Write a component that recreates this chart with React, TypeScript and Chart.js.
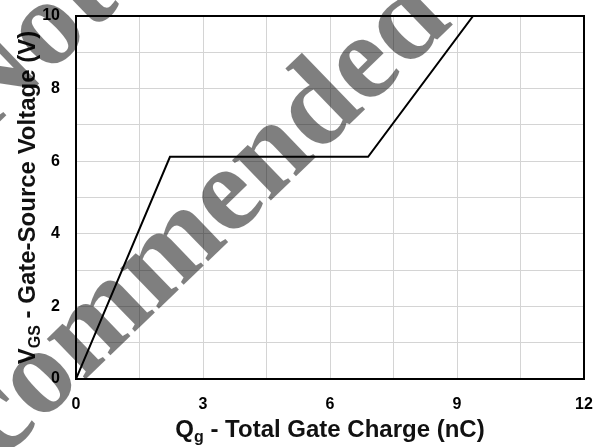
import { useEffect, useRef } from 'react';
import { Chart, registerables } from 'chart.js';

Chart.register(...registerables);

// Gate charge curve (Qg in nC, VGS in V)
const qgValues = [0, 2.22, 6.9, 9.38];
const vgsValues = [0, 6.12, 6.12, 10];

// Axis ranges / label rules
const xMin = 0;
const xMax = 12;
const xGridStep = 1.5;
const xLabelEvery = 3;
const yMin = 0;
const yMax = 10;
const yGridStep = 1;
const yLabelEvery = 2;

const xTitleMain = 'Q';
const xTitleSub = 'g';
const xTitleRest = ' - Total Gate Charge (nC)';
const yTitleMain = 'V';
const yTitleSub = 'GS';
const yTitleRest = ' - Gate-Source Voltage (V)';

const watermarkLines = ['Not', 'Recommended'];

const SANS = '"Liberation Sans", Arial, sans-serif';

function drawSubText(ctx: CanvasRenderingContext2D, parts: { t: string; size: number; dy: number }[], cx: number, cy: number) {
  let total = 0;
  const widths = parts.map((p) => {
    ctx.font = `bold ${p.size}px ${SANS}`;
    const w = ctx.measureText(p.t).width;
    total += w;
    return w;
  });
  let x = cx - total / 2;
  parts.forEach((p, i) => {
    ctx.font = `bold ${p.size}px ${SANS}`;
    ctx.fillText(p.t, x, cy + p.dy);
    x += widths[i];
  });
}

const boxPlugin = {
  id: 'plotBox',
  afterDatasetsDraw(chart: any) {
    const { ctx, chartArea: a } = chart;
    ctx.save();
    ctx.strokeStyle = '#000';
    ctx.lineWidth = 2;
    ctx.strokeRect(a.left, a.top, a.right - a.left, a.bottom - a.top);
    ctx.restore();
  },
};

const titlesPlugin = {
  id: 'axisTitles',
  afterDraw(chart: any) {
    const { ctx, chartArea: a } = chart;
    ctx.save();
    ctx.fillStyle = '#111';
    ctx.textAlign = 'left';
    ctx.textBaseline = 'alphabetic';
    drawSubText(
      ctx,
      [
        { t: xTitleMain, size: 24, dy: 0 },
        { t: xTitleSub, size: 16, dy: 5 },
        { t: xTitleRest, size: 24, dy: 0 },
      ],
      (a.left + a.right) / 2,
      437
    );
    ctx.translate(35, (a.top + a.bottom) / 2);
    ctx.rotate(-Math.PI / 2);
    drawSubText(
      ctx,
      [
        { t: yTitleMain, size: 24, dy: 0 },
        { t: yTitleSub, size: 16, dy: 5 },
        { t: yTitleRest, size: 24, dy: 0 },
      ],
      0,
      0
    );
    ctx.restore();
  },
};

const watermarkPlugin = {
  id: 'watermark',
  afterDraw(chart: any) {
    const { ctx } = chart;
    ctx.save();
    ctx.translate(176, 292);
    ctx.rotate((-44 * Math.PI) / 180);
    ctx.font = 'bold 122px "Liberation Serif", "Times New Roman", serif';
    ctx.fillStyle = 'rgba(0,0,0,0.5)';
    ctx.textAlign = 'center';
    ctx.textBaseline = 'alphabetic';
    ctx.fillText(watermarkLines[1], 0, 0);
    ctx.fillText(watermarkLines[0], 65, -245);
    ctx.restore();
  },
};

export default function App() {
  const ref = useRef<HTMLCanvasElement | null>(null);

  useEffect(() => {
    if (!ref.current) return;
    const tickFont = { family: SANS, size: 16, weight: 'bold' as const };
    const chart = new Chart(ref.current, {
      type: 'line',
      data: {
        datasets: [
          {
            data: qgValues.map((x, i) => ({ x, y: vgsValues[i] })),
            borderColor: '#000',
            borderWidth: 2,
            pointRadius: 0,
            tension: 0,
            fill: false,
          },
        ],
      },
      options: {
        responsive: false,
        animation: false,
        layout: { padding: { top: 16, right: 24, left: 0, bottom: 0 } },
        plugins: { legend: { display: false }, tooltip: { enabled: false } },
        scales: {
          x: {
            type: 'linear',
            min: xMin,
            max: xMax,
            ticks: {
              stepSize: xGridStep,
              autoSkip: false,
              maxRotation: 0,
              padding: 16,
              color: '#000',
              font: tickFont,
              callback: (v: any) => (Math.abs(v % xLabelEvery) < 1e-9 ? String(v) : ''),
            },
            grid: { color: '#d4d4d4', lineWidth: 1, drawTicks: false },
            border: { display: false },
            afterFit: (s: any) => {
              s.height = 68;
              s.paddingLeft = 0;
              s.paddingRight = 0;
            },
          },
          y: {
            type: 'linear',
            min: yMin,
            max: yMax,
            ticks: {
              stepSize: yGridStep,
              autoSkip: false,
              padding: 16,
              color: '#000',
              font: tickFont,
              callback: (v: any) => (Math.abs(v % yLabelEvery) < 1e-9 ? String(v) : ''),
            },
            grid: { color: '#d4d4d4', lineWidth: 1, drawTicks: false },
            border: { display: false },
            afterFit: (s: any) => {
              s.width = 76;
              s.paddingTop = 0;
              s.paddingBottom = 0;
            },
          },
        },
      },
      plugins: [boxPlugin, titlesPlugin, watermarkPlugin],
    });
    return () => chart.destroy();
  }, []);

  return (
    <div style={{ position: 'fixed', left: 0, top: 0, width: 608, height: 447, background: '#fff' }}>
      <canvas ref={ref} width={608} height={447} style={{ display: 'block' }} />
    </div>
  );
}
